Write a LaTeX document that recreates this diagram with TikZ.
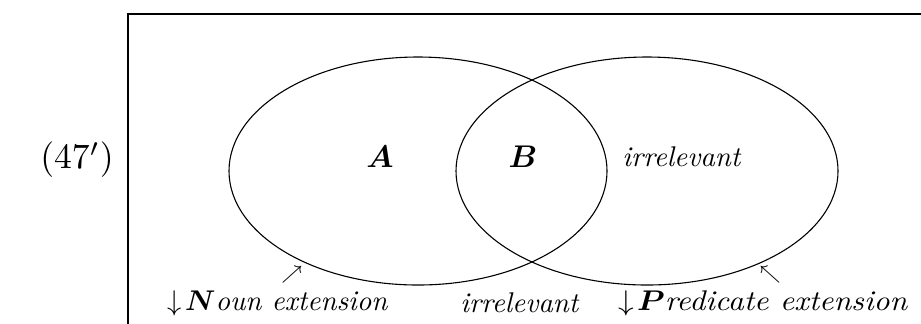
\documentclass[tikz,border=0pt]{standalone}
\usepackage{amsmath,amssymb}
\tikzset{
  lbl/.style={inner sep=0pt, anchor=center, scale=1.04},
  arr/.style={inner sep=0pt, anchor=center},
  venn/.style={draw, line width=0.4pt}
}
\begin{document}
\begin{tikzpicture}[x=0.365pt, y=-0.365pt]
\useasboundingbox (0,0) rectangle (921,323);
\clip (0,0) rectangle (921,323);
\draw[line width=0.4pt] (128,330) -- (128,14) -- (930,14);
\draw[venn] (418,171) ellipse [x radius=189, y radius=114];
\draw[venn] (647,171) ellipse [x radius=191, y radius=114];
\node[lbl, scale=1.25] (num) at (77,160) {$(47')$};
\node[lbl, scale=1.1] (a) at (380,157) {$\boldsymbol{A}$};
\node[lbl, scale=1.1] (b) at (523,157) {$\boldsymbol{B}$};
\node[lbl] (irr1) at (682,157) {\textit{irrelevant}};
\node[arr] (ne) at (292,275) {$\scriptstyle\nearrow$};
\node[arr] (nw) at (770,275) {$\scriptstyle\nwarrow$};
\node[lbl] (noun) at (278,303) {$\downarrow\!\boldsymbol{N}$\textit{oun extension}};
\node[lbl] (irr2) at (520,303) {\textit{irrelevant}};
\node[lbl, xscale=1.1] (pred) at (763,303) {$\downarrow\!\boldsymbol{P}$\textit{redicate extension}};
\end{tikzpicture}
\end{document}
